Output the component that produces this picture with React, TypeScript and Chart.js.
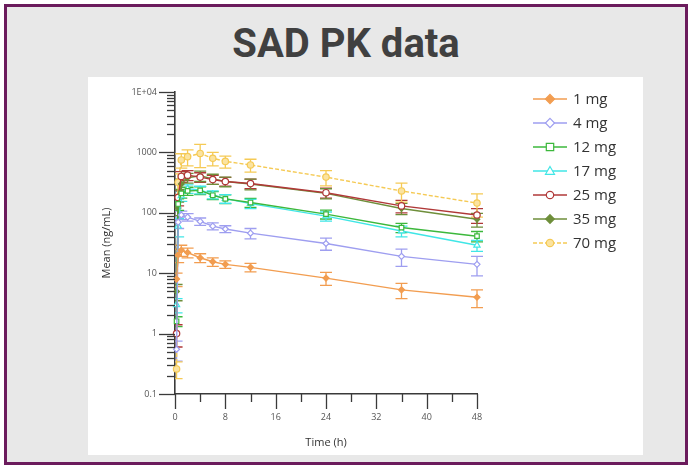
import React, { useEffect, useRef } from 'react';
import { Chart, registerables } from 'chart.js';

Chart.register(...registerables);

// ---- data ----
const times = [0.25, 0.5, 1, 2, 4, 6, 8, 12, 24, 36, 48];
const doseLabels = ['1 mg', '4 mg', '12 mg', '17 mg', '25 mg', '35 mg', '70 mg'];

const mean1mg = [8, 20, 24, 22, 18, 15.5, 14, 12.5, 8.3, 5.3, 4.0];
const sd1mg = [2, 5, 5, 4, 3, 2.5, 2, 2, 2, 1.5, 1.3];
const mean4mg = [0.55, 70, 92, 85, 72, 60, 54, 46, 31, 19, 14];
const sd4mg = [0.2, 15, 15, 12, 10, 8, 7, 9, 7, 6, 5];
const mean12mg = [1.6, 140, 210, 230, 235, 195, 170, 148, 95, 57, 41];
const sd12mg = [0.3, 30, 35, 35, 35, 30, 28, 25, 16, 10, 8];
const mean17mg = [3, 60, 190, 250, 240, 200, 172, 142, 88, 50, 29];
const sd17mg = [0.8, 20, 35, 40, 35, 30, 28, 25, 15, 10, 6];
const mean25mg = [1.0, 180, 400, 420, 390, 355, 330, 305, 215, 130, 92];
const sd25mg = [0.4, 50, 80, 80, 70, 60, 55, 55, 40, 30, 25];
const mean35mg = [5, 120, 300, 380, 410, 365, 330, 300, 210, 118, 78];
const sd35mg = [1.5, 30, 60, 70, 80, 70, 60, 60, 40, 25, 20];
const mean70mg = [0.26, 320, 750, 850, 960, 800, 710, 620, 390, 230, 145];
const sd70mg = [0.08, 120, 200, 250, 400, 200, 160, 150, 110, 80, 60];

const allMeans = [mean1mg, mean4mg, mean12mg, mean17mg, mean25mg, mean35mg, mean70mg];
const allSds = [sd1mg, sd4mg, sd12mg, sd17mg, sd25mg, sd35mg, sd70mg];

const seriesColors = ['#F29D50', '#9E9EF0', '#3CB83C', '#40E6E6', '#B03838', '#6E8E3A', '#F5CA55'];
const markerFills = ['#F29D50', '#FFFFFF', '#FFFFFF', '#FFFFFF', '#FFFFFF', '#6E8E3A', '#FBE3A0'];
const markerStyles = ['rectRot', 'rectRot', 'rect', 'triangle', 'circle', 'rectRot', 'circle'];
const markerSizes = [3, 3, 3.2, 3.6, 3.2, 2.8, 3.2];
const lineDashes: number[][] = [[], [], [], [], [], [], [4, 2]];

const yDecades = [0.1, 1, 10, 100, 1000];
const yTopTick = 10000;
const yTopLabel = '1E+04';
const xMin = 0;
const xMax = 48;
const xMinorStep = 4;
const xLabelStep = 8;

const yTickValues: number[] = [];
yDecades.forEach((d) => {
  for (let m = 1; m <= 9; m++) yTickValues.push(d * m);
});
yTickValues.push(yTopTick);

const isPow10 = (v: number) => Math.abs(Math.log10(v) - Math.round(Math.log10(v))) < 1e-9;

function drawMarker(ctx: CanvasRenderingContext2D, style: string, x: number, y: number, r: number, fill: string, stroke: string) {
  ctx.save();
  ctx.beginPath();
  if (style === 'circle') {
    ctx.arc(x, y, r, 0, Math.PI * 2);
  } else if (style === 'rect') {
    ctx.rect(x - r, y - r, r * 2, r * 2);
  } else if (style === 'rectRot') {
    ctx.moveTo(x, y - r * 1.3);
    ctx.lineTo(x + r * 1.3, y);
    ctx.lineTo(x, y + r * 1.3);
    ctx.lineTo(x - r * 1.3, y);
    ctx.closePath();
  } else if (style === 'triangle') {
    ctx.moveTo(x, y - r * 1.1);
    ctx.lineTo(x + r * 1.1, y + r * 0.8);
    ctx.lineTo(x - r * 1.1, y + r * 0.8);
    ctx.closePath();
  }
  ctx.fillStyle = fill;
  ctx.fill();
  ctx.lineWidth = 1.2;
  ctx.strokeStyle = stroke;
  ctx.stroke();
  ctx.restore();
}

const errorBarPlugin = {
  id: 'errorBars',
  beforeDatasetsDraw(chart: any) {
    const { ctx, chartArea, scales } = chart;
    const x = scales.x;
    const y = scales.y;
    ctx.save();
    ctx.beginPath();
    ctx.rect(chartArea.left, chartArea.top - 2, chartArea.right - chartArea.left + 10, chartArea.bottom - chartArea.top + 2);
    ctx.clip();
    chart.data.datasets.forEach((ds: any) => {
      const errs: number[] = ds.errors;
      ctx.strokeStyle = ds.borderColor;
      ctx.lineWidth = 1.3;
      ds.data.forEach((p: any, j: number) => {
        const px = x.getPixelForValue(p.x);
        const hi = y.getPixelForValue(p.y + errs[j]);
        const lo = y.getPixelForValue(Math.max(p.y - errs[j], 0.011));
        ctx.beginPath();
        ctx.moveTo(px, hi);
        ctx.lineTo(px, lo);
        ctx.moveTo(px - 6, hi);
        ctx.lineTo(px + 6, hi);
        ctx.moveTo(px - 6, lo);
        ctx.lineTo(px + 6, lo);
        ctx.stroke();
      });
    });
    ctx.restore();
  },
};

const tickMarkPlugin = {
  id: 'tickMarks',
  afterDraw(chart: any) {
    const { ctx, chartArea, scales } = chart;
    ctx.save();
    ctx.strokeStyle = '#3a3a3a';
    ctx.lineWidth = 1.3;
    scales.y.ticks.forEach((t: any) => {
      const py = Math.round(scales.y.getPixelForValue(t.value)) + 0.5;
      const len = isPow10(t.value) ? 16 : 8;
      ctx.beginPath();
      ctx.moveTo(chartArea.left - len, py);
      ctx.lineTo(chartArea.left, py);
      ctx.stroke();
    });
    scales.x.ticks.forEach((t: any) => {
      const px = Math.round(scales.x.getPixelForValue(t.value)) + 0.5;
      const len = t.value % xLabelStep === 0 ? 15 : 8;
      ctx.beginPath();
      ctx.moveTo(px, chartArea.bottom);
      ctx.lineTo(px, chartArea.bottom + len);
      ctx.stroke();
    });
    ctx.restore();
  },
};

const legendPlugin = {
  id: 'customLegend',
  afterDraw(chart: any) {
    const { ctx } = chart;
    const x0 = 445;
    const x1 = 479;
    const y0 = 22;
    const dy = 24;
    ctx.save();
    ctx.font = '15px "Open Sans", "Noto Sans", sans-serif';
    ctx.textBaseline = 'middle';
    ctx.textAlign = 'left';
    chart.data.datasets.forEach((ds: any, i: number) => {
      const yy = y0 + i * dy;
      ctx.save();
      ctx.strokeStyle = ds.borderColor;
      ctx.lineWidth = 1.5;
      ctx.setLineDash(ds.borderDash || []);
      ctx.beginPath();
      ctx.moveTo(x0, yy);
      ctx.lineTo(x1, yy);
      ctx.stroke();
      ctx.restore();
      drawMarker(ctx, ds.pointStyle, (x0 + x1) / 2, yy, ds.pointRadius + 0.5, ds.pointBackgroundColor, ds.borderColor);
      ctx.fillStyle = '#333333';
      ctx.fillText(ds.label, x1 + 6, yy + 1);
    });
    ctx.restore();
  },
};

function PKChart() {
  const ref = useRef<HTMLCanvasElement | null>(null);
  useEffect(() => {
    if (!ref.current) return;
    Chart.defaults.font.family = '"Open Sans", "Noto Sans", sans-serif';
    const datasets = doseLabels.map((label, i) => ({
      label,
      data: times.map((t, j) => ({ x: t, y: allMeans[i][j] })),
      errors: allSds[i],
      borderColor: seriesColors[i],
      backgroundColor: seriesColors[i],
      pointBackgroundColor: markerFills[i],
      pointBorderColor: seriesColors[i],
      pointStyle: markerStyles[i],
      pointRadius: markerSizes[i],
      pointBorderWidth: 1.2,
      borderWidth: 1.4,
      borderDash: lineDashes[i],
      tension: 0,
      clip: 4,
    }));
    const chart = new Chart(ref.current, {
      type: 'line',
      data: { datasets: datasets as any },
      options: {
        animation: false,
        responsive: false,
        devicePixelRatio: 1,
        layout: { padding: { left: 0, right: 166, top: 15, bottom: 0 } },
        plugins: { legend: { display: false }, tooltip: { enabled: false } },
        scales: {
          x: {
            type: 'linear',
            min: xMin,
            max: xMax,
            afterFit: (s: any) => { s.height = 61; },
            ticks: {
              stepSize: xMinorStep,
              autoSkip: false,
              maxRotation: 0,
              padding: 3,
              color: '#555555',
              font: { size: 9 },
              callback: (v: any) => (Number(v) % xLabelStep === 0 ? String(v) : ''),
            },
            grid: { display: true, drawOnChartArea: false, color: 'transparent', tickColor: 'transparent', tickLength: 15 },
            border: { display: true, color: '#3a3a3a', width: 1.6 },
            title: { display: true, text: 'Time (h)', color: '#333333', font: { size: 11 }, padding: { top: 0, bottom: 6 } },
          },
          y: {
            type: 'logarithmic',
            min: yDecades[0],
            max: yTopTick,
            afterFit: (s: any) => { s.width = 87; },
            afterBuildTicks: (s: any) => { s.ticks = yTickValues.map((v) => ({ value: v })); },
            ticks: {
              autoSkip: false,
              padding: 2,
              color: '#555555',
              font: { size: 9 },
              callback: (v: any) => {
                const n = Number(v);
                if (!isPow10(n)) return '';
                if (Math.abs(n - yTopTick) < 1e-6) return yTopLabel;
                return String(Number(n.toPrecision(6)));
              },
            },
            grid: { display: true, drawOnChartArea: false, color: 'transparent', tickColor: 'transparent', tickLength: 16 },
            border: { display: true, color: '#3a3a3a', width: 1.6 },
            title: { display: true, text: 'Mean (ng/mL)', color: '#333333', font: { size: 11 }, padding: { top: 12, bottom: 0 } },
          },
        },
      },
      plugins: [errorBarPlugin, tickMarkPlugin, legendPlugin],
    });
    return () => chart.destroy();
  }, []);
  return <canvas ref={ref} width={555} height={378} style={{ display: 'block', width: 555, height: 378 }} />;
}

export default function App() {
  return (
    <div style={{ position: 'absolute', left: 0, top: 0, width: 692, height: 469, background: '#ffffff', overflow: 'hidden' }}>
      <div
        style={{
          position: 'absolute',
          left: 4,
          top: 4,
          width: 678,
          height: 455,
          border: '3px solid #6B1B5C',
          background: '#E8E8E8',
        }}
      />
      <div
        style={{
          position: 'absolute',
          left: 0,
          top: 20,
          width: 692,
          textAlign: 'center',
          fontFamily: 'Roboto, "Noto Sans", sans-serif',
          fontWeight: 700,
          fontSize: 40,
          lineHeight: '48px',
          color: '#404040',
        }}
      >
        SAD PK data
      </div>
      <div style={{ position: 'absolute', left: 88, top: 77, width: 555, height: 378, background: '#FFFFFF' }}>
        <PKChart />
      </div>
    </div>
  );
}
